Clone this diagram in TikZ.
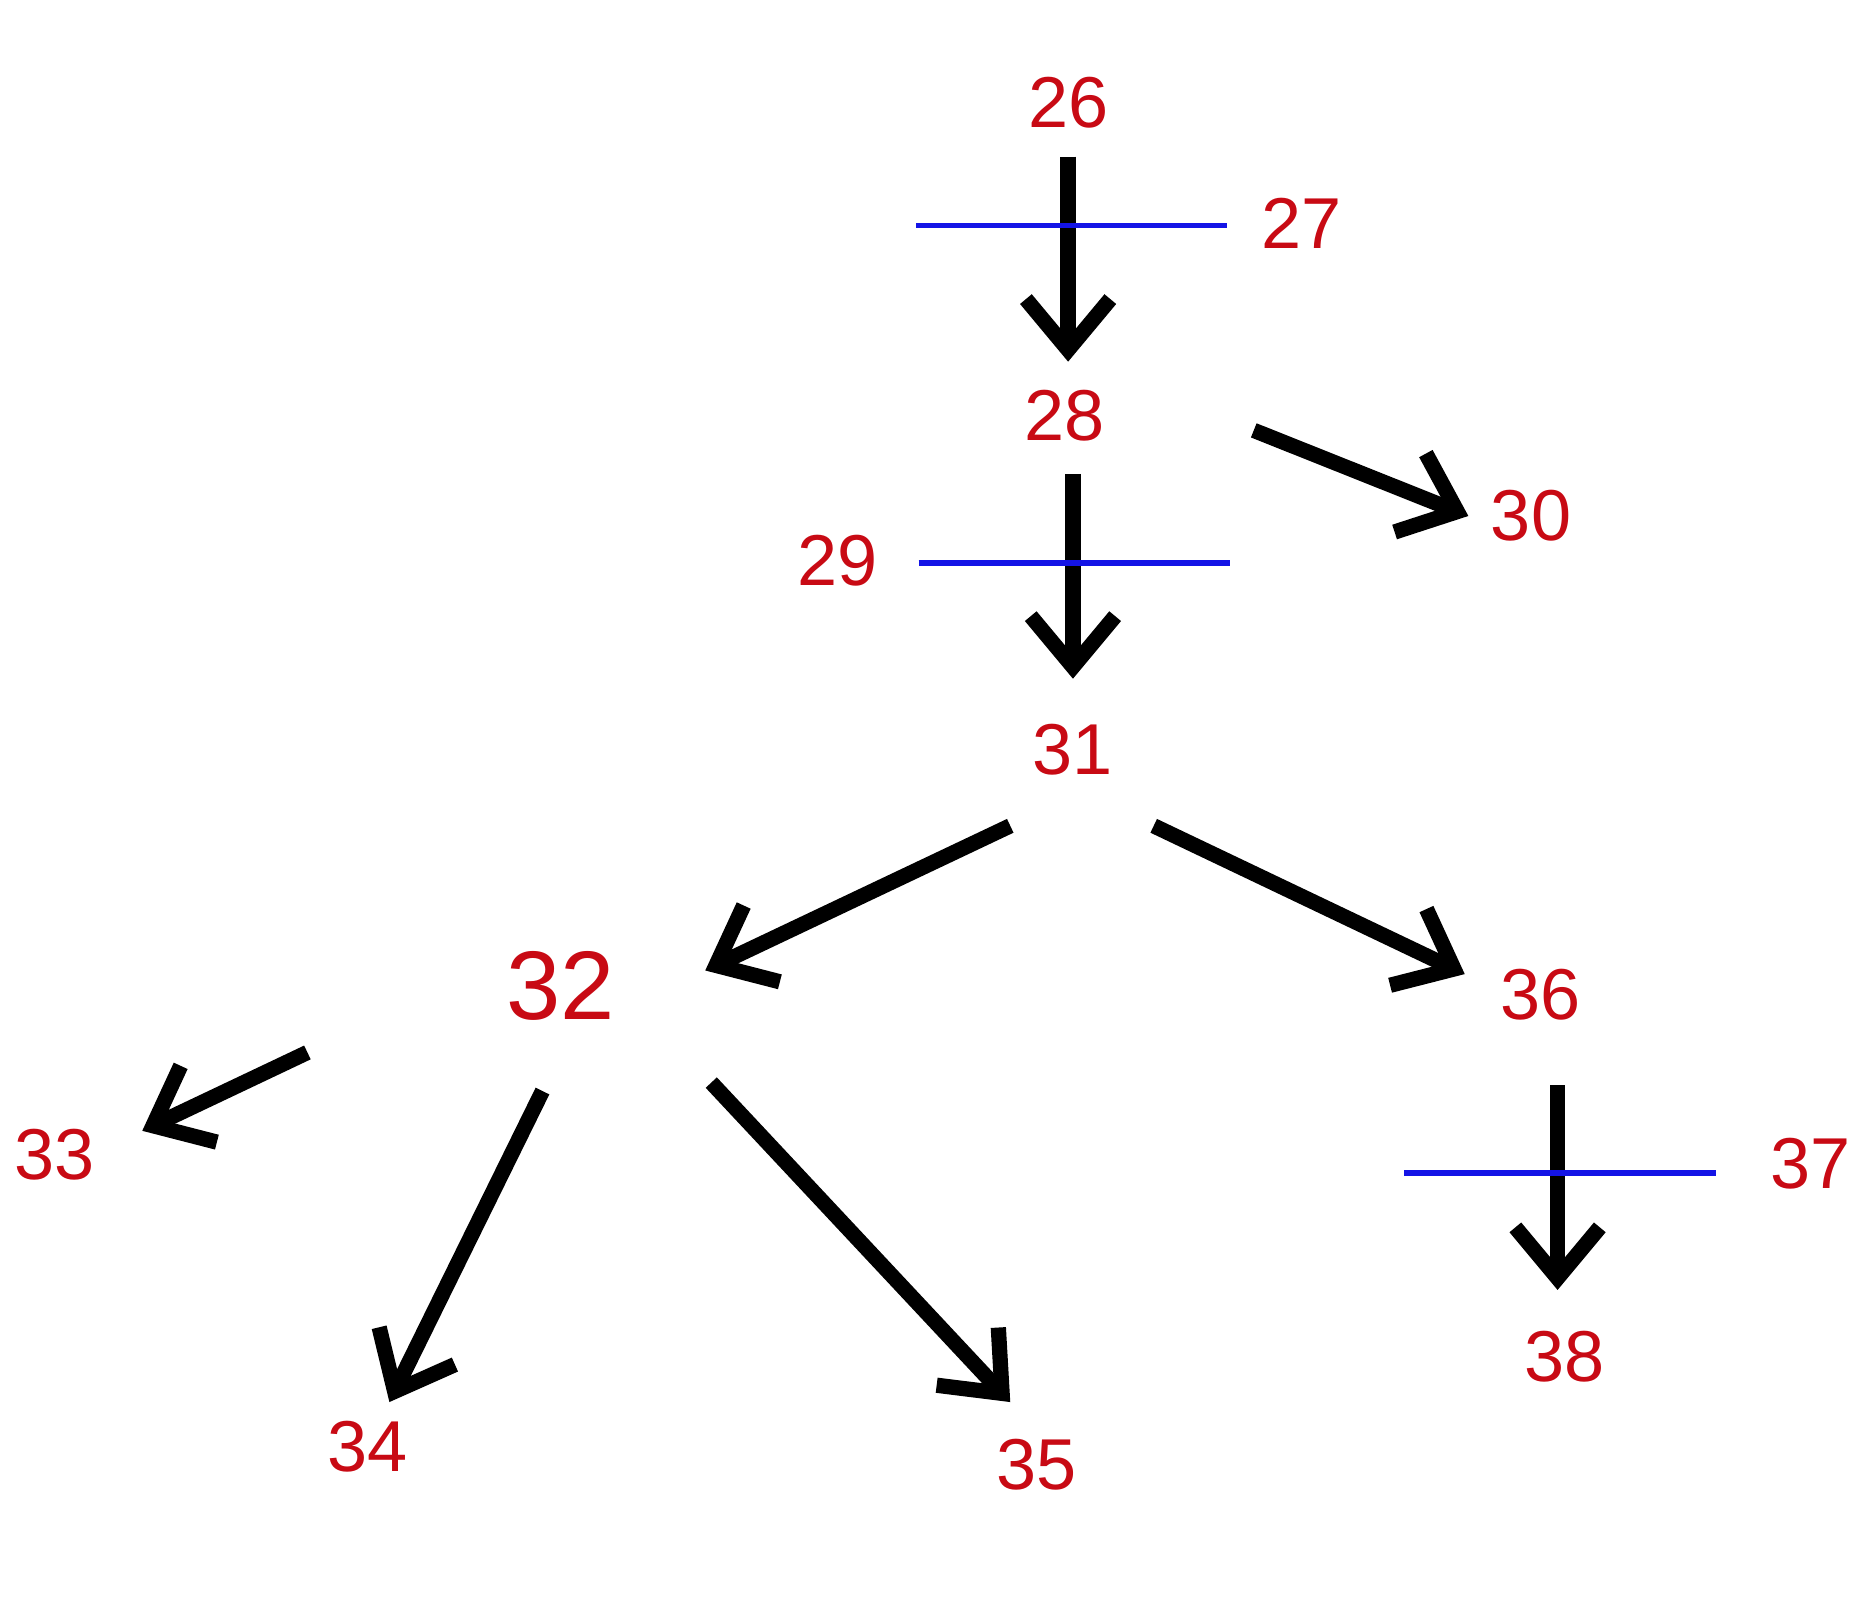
\documentclass[tikz,border=0pt]{standalone}
\usepackage{fontspec}
\setmainfont{Liberation Sans}
\usetikzlibrary{arrows.meta}
\definecolor{numred}{RGB}{200,10,20}
\definecolor{barblue}{RGB}{20,20,230}
\tikzset{
  num/.style={text=numred,font=\fontsize{17}{20}\selectfont},
  bignum/.style={text=numred,font=\fontsize{23}{26}\selectfont},
  arr/.style={line width=3.6pt,-{Straight Barb[length=0.42cm,width=0.7cm,line width=3.6pt]}},
  bar/.style={barblue,line width=1.3pt}
}
\begin{document}
\begin{tikzpicture}[x=0.01cm,y=-0.01cm]
\useasboundingbox (0,0) rectangle (1552,1336);
\fill[white] (0,0) rectangle (1552,1336);
\node[num] (n26) at (886,85) {26};
\node[num] (n27) at (1080,185) {27};
\node[num] (n28) at (883,345) {28};
\node[num] (n29) at (695,465) {29};
\node[num] (n30) at (1270,428) {30};
\node[num] (n31) at (890,622) {31};
\node[bignum] (n32) at (465,818) {32};
\node[num] (n33) at (45,958) {33};
\node[num] (n34) at (305,1200) {34};
\node[num] (n35) at (860,1215) {35};
\node[num] (n36) at (1278,825) {36};
\node[num] (n37) at (1502,965) {37};
\node[num] (n38) at (1298,1125) {38};
\coordinate (a1) at (886,130); \coordinate (b1) at (886,300);
\coordinate (a2) at (1040,357); \coordinate (b2) at (1218,428);
\coordinate (a3) at (890,393); \coordinate (b3) at (890,563);
\coordinate (a4) at (838,685); \coordinate (b4) at (585,805);
\coordinate (a5) at (957,685); \coordinate (b5) at (1215,808);
\coordinate (a6) at (255,873); \coordinate (b6) at (118,938);
\coordinate (a7) at (450,905); \coordinate (b7) at (323,1163);
\coordinate (a8) at (590,898); \coordinate (b8) at (838,1163);
\coordinate (a9) at (1292,900); \coordinate (b9) at (1292,1070);
\coordinate (l27) at (760,187); \coordinate (r27) at (1018,187);
\coordinate (l29) at (762,467); \coordinate (r29) at (1020,467);
\coordinate (l37) at (1165,973); \coordinate (r37) at (1423,973);
\foreach \i in {1,...,9} \draw[arr] (a\i) -- (b\i);
\draw[bar] (l27) -- (r27);
\draw[bar] (l29) -- (r29);
\draw[bar] (l37) -- (r37);
\end{tikzpicture}
\end{document}
